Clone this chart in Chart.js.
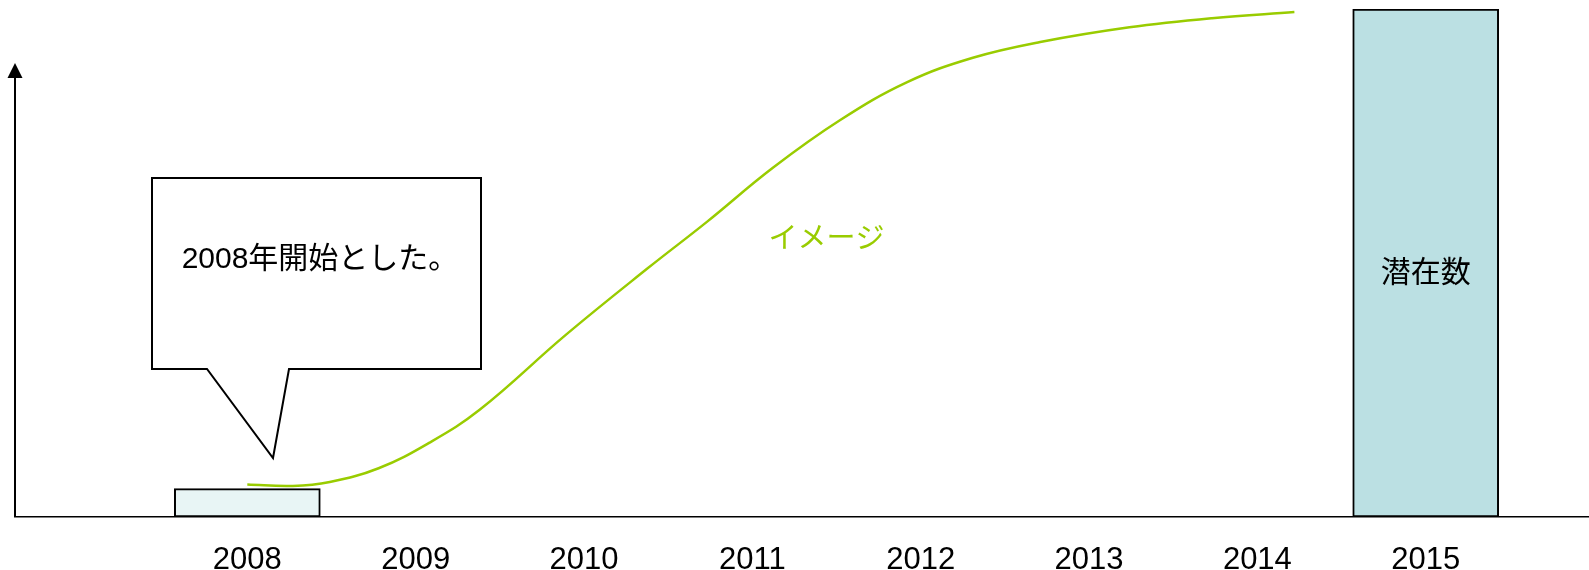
<!DOCTYPE html>
<html lang="ja">
<head>
<meta charset="utf-8">
<title>潜在数</title>
<script src="https://cdn.jsdelivr.net/npm/chart.js@4/dist/chart.umd.min.js"></script>
<style>
  html, body { margin: 0; padding: 0; background: #fff; }
  #wrap { width: 1589px; height: 570px; }
</style>
</head>
<body>
<div id="wrap"><canvas id="chart" width="1589" height="570"></canvas></div>
<script>
// years shown along the axis
var years = [2008, 2009, 2010, 2011, 2012, 2013, 2014, 2015];

// bars: start year and potential count (2015 = 100)
var barYears = [2008, 2015];
var barValues = [5.6, 100];
var barNames = ['', '潜在数'];

// growth curve ("イメージ")
var curveYears = [2008.0, 2008.27, 2008.49, 2008.78, 2009.08, 2009.38, 2009.89, 2010.38,
                  2010.73, 2011.12, 2011.52, 2011.92, 2012.31, 2012.71, 2013.24, 2013.73,
                  2014.22];
var curveValues = [6.4, 6.1, 6.9, 9.6, 14.6, 21.1, 35.8, 49.0,
                   58.1, 68.7, 78.1, 85.6, 90.4, 93.5, 96.4, 98.2,
                   99.4];

var GREEN = '#99cc00';
var LATIN = "'Liberation Sans', Arial, sans-serif";
var CJK = "'Liberation Sans', 'Noto Sans CJK JP', sans-serif";

// vertical axis with arrow head, drawn at the left edge of the plot
var arrowAxis = {
    id: 'arrowAxis',
    afterDraw: function (chart) {
        var ctx = chart.ctx;
        var x = chart.chartArea.left;
        var bottom = chart.chartArea.bottom;
        var tip = 63;
        ctx.save();
        ctx.strokeStyle = '#000';
        ctx.lineWidth = 2;
        ctx.beginPath();
        ctx.moveTo(x, bottom);
        ctx.lineTo(x, tip + 12);
        ctx.stroke();
        ctx.fillStyle = '#000';
        ctx.beginPath();
        ctx.moveTo(x, tip);
        ctx.lineTo(x - 7.5, tip + 15);
        ctx.lineTo(x + 7.5, tip + 15);
        ctx.closePath();
        ctx.fill();
        ctx.restore();
    }
};

// speech bubble pointing at the first year, the curve caption and the bar name
var notes = {
    id: 'notes',
    afterDatasetsDraw: function (chart) {
        var ctx = chart.ctx;
        ctx.save();

        // bubble
        ctx.beginPath();
        ctx.moveTo(152, 178);
        ctx.lineTo(481, 178);
        ctx.lineTo(481, 369);
        ctx.lineTo(289, 369);
        ctx.lineTo(273, 458);
        ctx.lineTo(207, 369);
        ctx.lineTo(152, 369);
        ctx.closePath();
        ctx.fillStyle = '#fff';
        ctx.fill();
        ctx.strokeStyle = '#000';
        ctx.lineWidth = 2;
        ctx.stroke();

        ctx.fillStyle = '#000';
        ctx.textAlign = 'center';
        ctx.textBaseline = 'middle';
        ctx.font = '30px ' + CJK;
        ctx.fillText('2008年開始とした。', 320, 260);

        // curve caption
        var xs = chart.scales.x, ys = chart.scales.y;
        ctx.fillStyle = GREEN;
        ctx.font = '29px ' + CJK;
        ctx.fillText('イメージ', xs.getPixelForValue(2011.44), ys.getPixelForValue(54.6));

        // names written inside the bars
        var meta = chart.getDatasetMeta(0);
        ctx.fillStyle = '#000';
        ctx.font = '30px ' + CJK;
        meta.data.forEach(function (bar, i) {
            if (!barNames[i]) return;
            ctx.fillText(barNames[i], bar.x, (bar.y + bar.base) / 2 + 11);
        });

        ctx.restore();
    }
};

var chart = new Chart(document.getElementById('chart'), {
    type: 'line',
    data: {
        datasets: [
            {
                type: 'bar',
                label: 'count',
                data: barYears.map(function (y, i) { return { x: y, y: barValues[i] }; }),
                backgroundColor: ['#e8f5f5', '#bbe0e3'],
                borderColor: '#000',
                borderWidth: 2,
                borderSkipped: false,
                barThickness: 146,
                order: 2
            },
            {
                type: 'line',
                label: 'イメージ',
                data: curveYears.map(function (y, i) { return { x: y, y: curveValues[i] }; }),
                borderColor: GREEN,
                borderWidth: 2.5,
                pointRadius: 0,
                fill: false,
                tension: 0.4,
                order: 1
            }
        ]
    },
    options: {
        responsive: false,
        animation: false,
        events: [],
        layout: { padding: { left: 15, top: 9, right: 0, bottom: 0 } },
        plugins: {
            legend: { display: false },
            title: { display: false },
            tooltip: { enabled: false }
        },
        scales: {
            x: {
                type: 'linear',
                min: 2006.62,
                max: 2015.97,
                offset: false,
                grid: { display: false, drawTicks: false },
                border: { display: true, color: '#000', width: 1.5 },
                afterBuildTicks: function (axis) {
                    axis.ticks = years.map(function (v) { return { value: v }; });
                },
                afterFit: function (axis) {
                    axis.height = 53;
                },
                ticks: {
                    color: '#000',
                    font: { family: LATIN, size: 31 },
                    padding: 25,
                    autoSkip: false,
                    maxRotation: 0,
                    callback: function (v) { return String(v); }
                }
            },
            y: {
                display: false,
                min: 0,
                max: 100
            }
        }
    },
    plugins: [arrowAxis, notes]
});
</script>
</body>
</html>
